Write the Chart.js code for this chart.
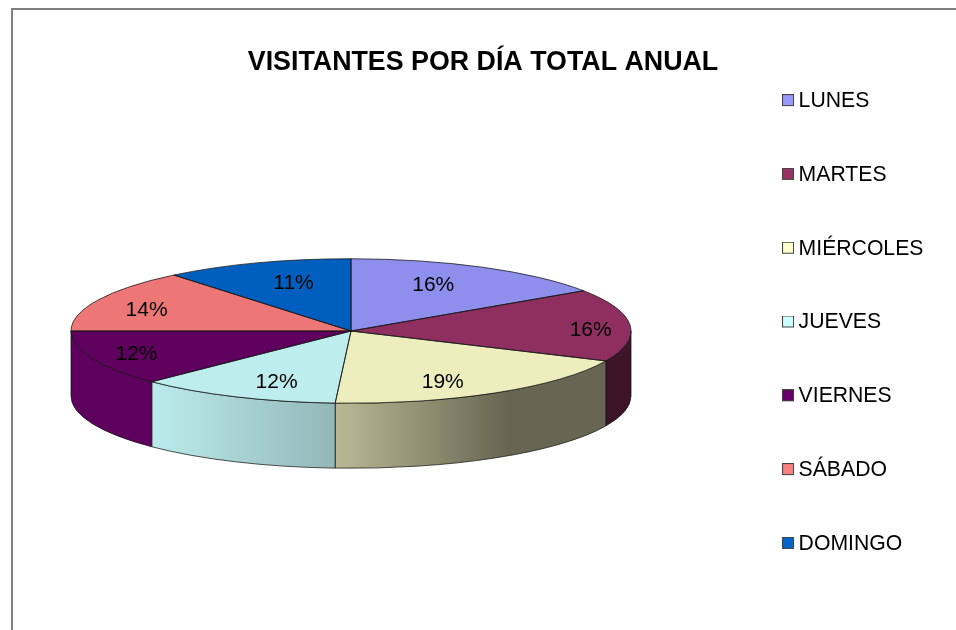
<!DOCTYPE html>
<html><head><meta charset="utf-8">
<style>
html,body{margin:0;padding:0;background:#fff;width:956px;height:630px;overflow:hidden}
#frame{position:absolute;left:11px;top:8px;width:1000px;height:700px;border-left:2px solid #808080;border-top:2px solid #808080}
canvas{position:absolute;left:0;top:0}
</style>
<script src="https://cdn.jsdelivr.net/npm/chart.js@4"></script>
</head><body>
<div id="frame"></div>
<canvas id="c" width="956" height="630"></canvas>
<script>
const titleText = 'VISITANTES POR DÍA TOTAL ANUAL';
const categories = ['LUNES','MARTES','MIÉRCOLES','JUEVES','VIERNES','SÁBADO','DOMINGO'];
const shares = [15.6,16.2,19.1,11.7,12.4,14.1,10.9];
const baseColors = ['#9999FF','#993366','#FFFFCC','#CCFFFF','#660066','#FF8080','#0066CC'];
const labelReachX = [.62,.857,.63,.65,.83,.81,.617];
const labelReachY = [.74,.32,.81,.76,.81,.70,.72];

const FONT = "'Liberation Sans', Arial, sans-serif";
const TILT = 0.258, DEPTH = 65, TOP_SHADE = 0.93;
const PLOT = {left:71, right:631, top:51, bottom:611};
const WALL_STOPS = [[0,.92],[.145,.92],[.5,.70],[.78,.40],[1,.40]];

function shade(hex, f){
  const n = parseInt(hex.slice(1),16);
  const c = [n>>16&255, n>>8&255, n&255].map(v=>Math.round(v*f));
  return 'rgb('+c.join(',')+')';
}
function swatch(hex){
  const cv = document.createElement('canvas');
  cv.width = 12; cv.height = 14;
  const x = cv.getContext('2d');
  x.fillStyle = hex; x.fillRect(0,0,12,12);
  x.strokeStyle = '#444'; x.lineWidth = 1; x.strokeRect(.5,.5,11,11);
  return cv;
}

const pie3d = {
  id:'pie3d',
  afterLayout(chart){
    const a = chart.chartArea;
    Object.assign(a, PLOT, {width:PLOT.right-PLOT.left, height:PLOT.bottom-PLOT.top});
    const lg = chart.legend, pad = lg.options.labels.padding;
    lg.left = 788 - pad; lg.right = 956;
    lg.top = 90.5 - pad; lg.bottom = 640;
  },
  beforeDatasetDraw(chart){
    const ctx = chart.ctx, arcs = chart.getDatasetMeta(0).data;
    arcs.forEach((arc,i)=>{
      const {x,y,outerRadius:r,startAngle,endAngle} = arc;
      const s = Math.max(startAngle,0), e = Math.min(endAngle,Math.PI);
      if (e <= s) return;
      const ry = r*TILT;
      const g = ctx.createLinearGradient(x-r,0,x+r,0);
      WALL_STOPS.forEach(st=>g.addColorStop(st[0],shade(baseColors[i],st[1])));
      ctx.beginPath();
      ctx.ellipse(x,y,r,ry,0,s,e);
      ctx.ellipse(x,y+DEPTH,r,ry,0,e,s,true);
      ctx.closePath();
      ctx.fillStyle = g; ctx.fill();
      ctx.strokeStyle = 'rgba(20,20,20,.75)'; ctx.lineWidth = 1; ctx.stroke();
    });
    const a0 = arcs[0];
    ctx.save();
    ctx.translate(a0.x,a0.y); ctx.scale(1,TILT); ctx.translate(-a0.x,-a0.y);
  },
  afterDatasetDraw(chart){
    const ctx = chart.ctx, arcs = chart.getDatasetMeta(0).data;
    ctx.restore();
    const total = shares.reduce((p,v)=>p+v,0);
    arcs.forEach(arc=>{
      const {x,y,outerRadius:r,startAngle,endAngle} = arc;
      ctx.beginPath();
      ctx.moveTo(x,y);
      ctx.ellipse(x,y,r,r*TILT,0,startAngle,endAngle);
      ctx.closePath();
      ctx.strokeStyle = 'rgba(20,20,20,.75)'; ctx.lineWidth = 1; ctx.stroke();
    });
    ctx.fillStyle = '#000';
    ctx.font = '21px '+FONT;
    ctx.textAlign = 'center'; ctx.textBaseline = 'middle';
    arcs.forEach((arc,i)=>{
      const mid = (arc.startAngle+arc.endAngle)/2;
      const px = arc.x + Math.cos(mid)*arc.outerRadius*labelReachX[i];
      const py = arc.y + Math.sin(mid)*arc.outerRadius*TILT*labelReachY[i];
      ctx.fillText(Math.round(shares[i]/total*100)+'%',px+.5,py+1);
    });
  }
};

new Chart(document.getElementById('c'),{
  type:'pie',
  data:{labels:categories,datasets:[{
    data:shares,
    backgroundColor:baseColors.map(c=>shade(c,TOP_SHADE)),
    borderWidth:0,
    clip:false
  }]},
  plugins:[pie3d],
  options:{
    responsive:false,
    animation:false,
    events:[],
    layout:{padding:{left:10,right:0,top:0,bottom:-60}},
    plugins:{
      tooltip:{enabled:false},
      title:{display:true,text:titleText,color:'#000',
        font:{family:FONT,size:26.8,weight:'bold'},padding:{top:47,bottom:0}},
      legend:{
        display:true,position:'right',align:'start',
        labels:{
          color:'#000',font:{family:FONT,size:21.2},padding:52.6,
          usePointStyle:true,pointStyleWidth:0.01,
          generateLabels(){
            return categories.map((t,i)=>({text:t,pointStyle:swatch(baseColors[i]),
              fillStyle:baseColors[i],strokeStyle:'#444',lineWidth:0,hidden:false,index:i}));
          }
        }
      }
    }
  }
});
</script>
</body></html>
